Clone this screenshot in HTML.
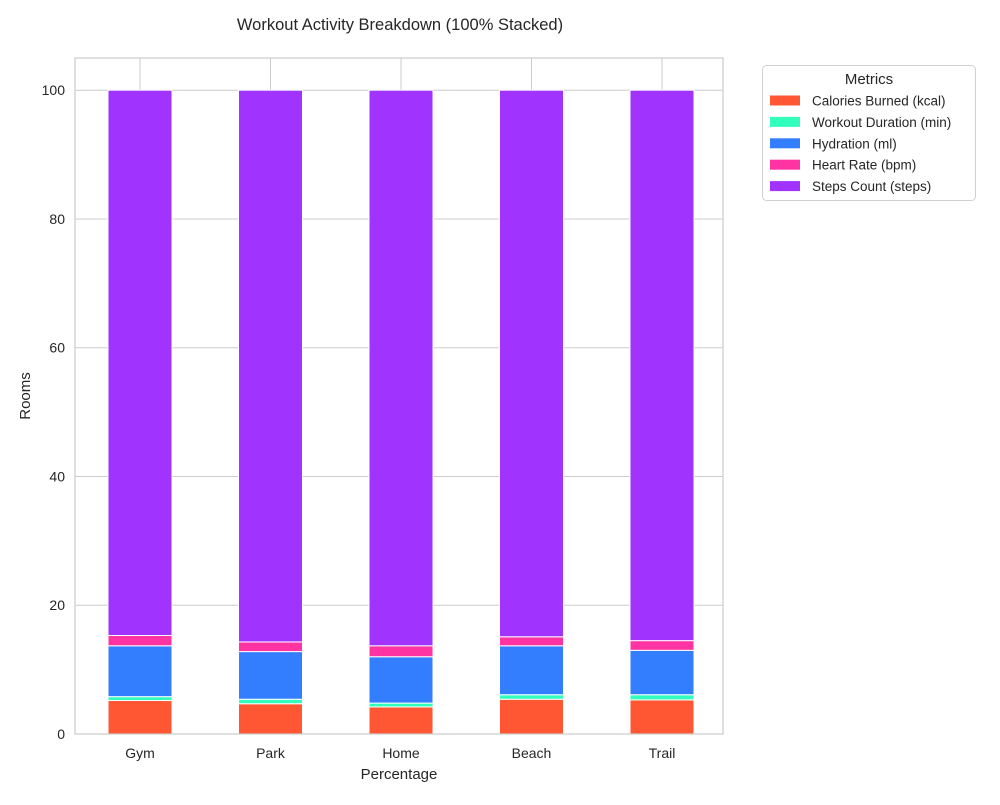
<!DOCTYPE html>
<html><head><meta charset="utf-8"><style>
body{margin:0;background:#fff;font-family:"Liberation Sans","DejaVu Sans",sans-serif;}
svg text{font-family:"Liberation Sans","DejaVu Sans",sans-serif;fill:#262626;}
</style></head><body>
<svg id="chart" width="1000" height="800" xmlns="http://www.w3.org/2000/svg">
<rect width="1000" height="800" fill="#fff"/>
<text x="400" y="30" font-size="16.5" text-anchor="middle">Workout Activity Breakdown (100% Stacked)</text>
<g id="grid"></g><g id="bars"></g><g id="axes"></g><g id="legend"></g>
</svg>
<script>
const categories = ["Gym","Park","Home","Beach","Trail"];
const seriesNames = ["Calories Burned (kcal)","Workout Duration (min)","Hydration (ml)","Heart Rate (bpm)","Steps Count (steps)"];
const calories = [5.2,4.7,4.2,5.4,5.3];
const duration = [0.6,0.7,0.6,0.7,0.8];
const hydration = [7.9,7.4,7.2,7.6,6.9];
const heartRate = [1.6,1.5,1.7,1.4,1.5];
const steps = [84.7,85.7,86.3,84.9,85.5];
const yTicks = [0,20,40,60,80,100];
const colors = ["#ff5733","#33ffbd","#337dff","#ff33a1","#a133ff"];
const series = [calories,duration,hydration,heartRate,steps];

const NS="http://www.w3.org/2000/svg";
const L=75,R=723,T=58,B=734;
const step=130.5;
const x=i=>140+i*step;
const y=v=>B-(v/105)*(B-T);
function mk(tag,attrs,parent){const e=document.createElementNS(NS,tag);for(const k in attrs)e.setAttribute(k,attrs[k]);parent.appendChild(e);return e;}
const grid=document.getElementById('grid'),bars=document.getElementById('bars'),axes=document.getElementById('axes'),leg=document.getElementById('legend');
yTicks.forEach(t=>{
 const g=mk('line',{x1:L,x2:R,y1:y(t),y2:y(t),stroke:'#cccccc','stroke-width':1},grid);
 
 
 const tx=mk('text',{x:L-10,y:y(t)+5,'font-size':14,'text-anchor':'end'},axes);
 tx.textContent=t;
 
 
});
categories.forEach((c,i)=>{
 const g=mk('line',{x1:x(i),x2:x(i),y1:T,y2:B,stroke:'#cccccc','stroke-width':1},grid);
 
 
 const tx=mk('text',{x:x(i),y:B+24,'font-size':14,'text-anchor':'middle'},axes);
 tx.textContent=c;
 
 
 const w=64;
 let cum=0;
 series.forEach((s,k)=>{
  const v=s[i];
  const r=mk('rect',{x:x(i)-w/2,y:y(cum+v),width:w,height:y(cum)-y(cum+v),fill:colors[k],stroke:'#fff','stroke-width':1},bars);
  
  
  cum+=v;
 });
});
const fr=mk('rect',{x:L,y:T,width:R-L,height:B-T,fill:'none',stroke:'#cccccc','stroke-width':1.2},axes);


const xt=mk('text',{x:(L+R)/2,y:779,'font-size':15,'text-anchor':'middle'},axes);
xt.textContent='Percentage';


const yt=mk('text',{x:30,y:(T+B)/2,'font-size':15,'text-anchor':'middle',transform:'rotate(-90 30 '+((T+B)/2)+')'},axes);
yt.textContent='Rooms';


const lb=mk('rect',{x:762.5,y:65.5,width:213,height:135,rx:4,fill:'#fff',stroke:'#d0d0d0'},leg);


const lt=mk('text',{x:869,y:84,'font-size':15,'text-anchor':'middle'},leg);
lt.textContent='Metrics';


seriesNames.forEach((n,k)=>{
 const cy=100.5+k*21.4;
 const sw=mk('rect',{x:770,y:cy-5,width:30,height:10,fill:colors[k]},leg);
 
 
 const t=mk('text',{x:812,y:cy+5,'font-size':13.5},leg);
 t.textContent=n;
 
 
});
</script>
</body></html>
